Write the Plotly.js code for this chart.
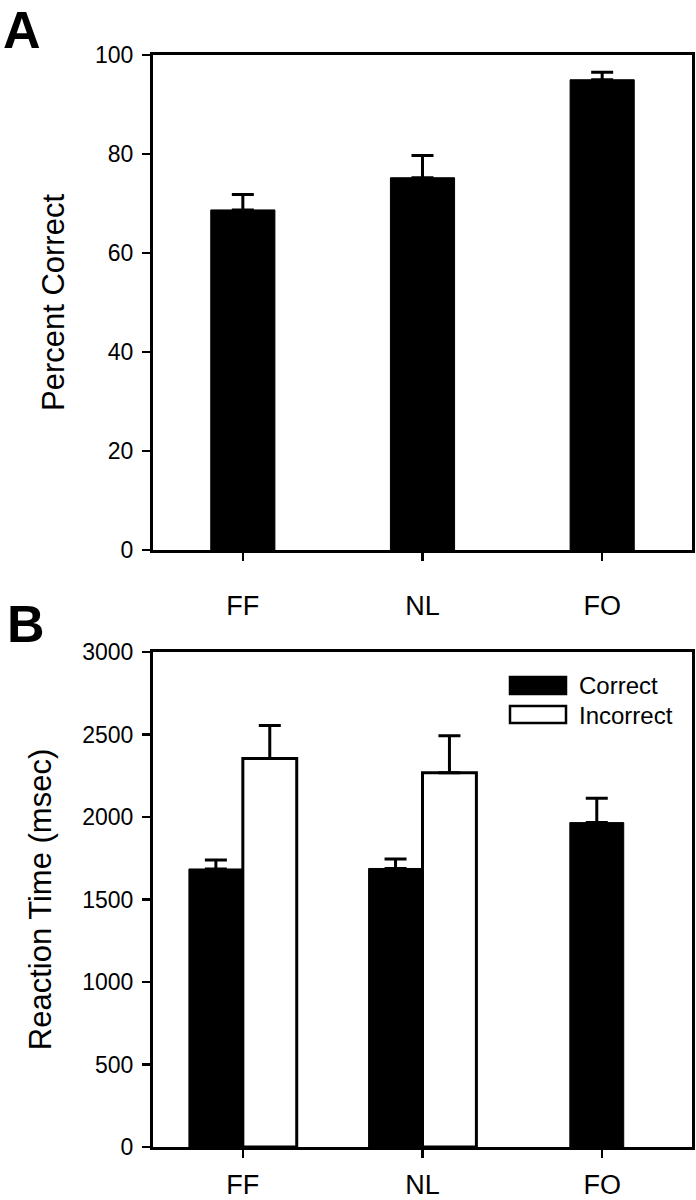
<!DOCTYPE html>
<html>
<head>
<meta charset="utf-8">
<script src="https://cdn.plot.ly/plotly-3.0.1.min.js"></script>
<style>html,body{margin:0;padding:0;background:#fff;}#chart{width:696px;height:1200px;}</style>
</head>
<body>
<div id="chart"></div>
<script>
const categories = ['FF', 'NL', 'FO'];
const percentCorrect = [68.7, 75.2, 95.0];
const percentCorrectErr = [3.1, 4.5, 1.5];
const seriesNames = ['Correct', 'Incorrect'];
const rtCorrect = [1685, 1688, 1966];
const rtCorrectErr = [55, 57, 147];
const rtIncorrect = [2354, 2268, null];
const rtIncorrectErr = [201, 224, null];
const yTicksA = [0, 20, 40, 60, 80, 100];
const yTicksB = [0, 500, 1000, 1500, 2000, 2500, 3000];
const panelLabels = ['A', 'B'];
const yTitles = ['Percent Correct', 'Reaction Time (msec)'];

const W = 696, H = 1200;
const M = {l: 153, r: 4, t: 55, b: 53};
const plotW = W - M.l - M.r, plotH = H - M.t - M.b;
const px2x = p => (p - M.l) / plotW;
const px2y = p => (H - M.b - p) / plotH;
const FONT = 'Liberation Sans, Arial, sans-serif';

const errStyle = {type: 'data', symmetric: false, color: '#000', thickness: 3, width: 11};

const traces = [
  {
    type: 'bar', x: categories, y: percentCorrect, xaxis: 'x', yaxis: 'y',
    width: 0.357, offset: -0.1785,
    marker: {color: '#000', line: {color: '#000', width: 1}},
    error_y: Object.assign({array: percentCorrectErr, arrayminus: percentCorrectErr.map(() => 0)}, errStyle),
    showlegend: false, hoverinfo: 'skip'
  },
  {
    type: 'bar', name: seriesNames[0], x: categories, y: rtCorrect, xaxis: 'x2', yaxis: 'y2',
    width: 0.3, offset: [-0.3, -0.3, -0.18],
    marker: {color: '#000', line: {color: '#000', width: 1}},
    error_y: Object.assign({array: rtCorrectErr, arrayminus: rtCorrectErr.map(() => 0)}, errStyle),
    showlegend: false, hoverinfo: 'skip'
  },
  {
    type: 'bar', name: seriesNames[1], x: categories, y: rtIncorrect, xaxis: 'x2', yaxis: 'y2',
    width: 0.3, offset: 0,
    marker: {color: '#fff', line: {color: '#000', width: 3}},
    error_y: Object.assign({array: rtIncorrectErr, arrayminus: rtIncorrectErr.map(() => 0)}, errStyle),
    showlegend: false, hoverinfo: 'skip'
  }
];

const axisCommon = {
  showline: true, linecolor: '#000', linewidth: 3, mirror: true,
  ticks: 'outside', ticklen: 8, tickwidth: 2.5, tickcolor: '#000',
  showgrid: false, zeroline: false, fixedrange: true
};

const domA = [px2y(550), 1];
const domB = [0, px2y(652)];

const layout = {
  width: W, height: H, margin: M,
  paper_bgcolor: '#fff', plot_bgcolor: '#fff',
  barmode: 'overlay',
  font: {family: FONT, color: '#000'},
  showlegend: false,
  xaxis: Object.assign({}, axisCommon, {
    anchor: 'y', type: 'category', categoryorder: 'array', categoryarray: categories,
    range: [-0.5, 2.5], tickfont: {size: 27, family: FONT}, ticklabelstandoff: 22
  }),
  yaxis: Object.assign({}, axisCommon, {
    anchor: 'x', domain: domA, range: [0, 100], tickvals: yTicksA,
    tickfont: {size: 23, family: FONT}, ticklabelstandoff: 4,
    title: {text: yTitles[0], font: {size: 31, family: FONT}, standoff: 22}
  }),
  xaxis2: Object.assign({}, axisCommon, {
    anchor: 'y2', type: 'category', categoryorder: 'array', categoryarray: categories,
    range: [-0.5, 2.5], tickfont: {size: 27, family: FONT}, ticklabelstandoff: 4
  }),
  yaxis2: Object.assign({}, axisCommon, {
    anchor: 'x2', domain: domB, range: [0, 3000], tickvals: yTicksB,
    tickfont: {size: 23, family: FONT}, ticklabelstandoff: 4,
    title: {text: yTitles[1], font: {size: 31, family: FONT}, standoff: 22}
  }),
  shapes: [
    {type: 'rect', xref: 'paper', yref: 'paper', x0: px2x(510), x1: px2x(566), y0: px2y(694), y1: px2y(677),
      fillcolor: '#000', line: {color: '#000', width: 2.5}},
    {type: 'rect', xref: 'paper', yref: 'paper', x0: px2x(510), x1: px2x(566), y0: px2y(723), y1: px2y(706),
      fillcolor: '#fff', line: {color: '#000', width: 2.5}}
  ],
  annotations: [
    {text: seriesNames[0], xref: 'paper', yref: 'paper', x: px2x(577), y: px2y(685.5), xanchor: 'left', yanchor: 'middle',
      showarrow: false, font: {size: 24, family: FONT}},
    {text: seriesNames[1], xref: 'paper', yref: 'paper', x: px2x(577), y: px2y(715), xanchor: 'left', yanchor: 'middle',
      showarrow: false, font: {size: 24, family: FONT}},
    {text: '<b>' + panelLabels[0] + '</b>', xref: 'paper', yref: 'paper', x: px2x(2), y: px2y(0), xanchor: 'left', yanchor: 'top',
      showarrow: false, font: {size: 52, family: FONT}, borderpad: 0},
    {text: '<b>' + panelLabels[1] + '</b>', xref: 'paper', yref: 'paper', x: px2x(5), y: px2y(624), xanchor: 'left', yanchor: 'middle',
      showarrow: false, font: {size: 52, family: FONT}}
  ]
};

Plotly.newPlot('chart', traces, layout, {staticPlot: true, displayModeBar: false});
</script>
</body>
</html>
